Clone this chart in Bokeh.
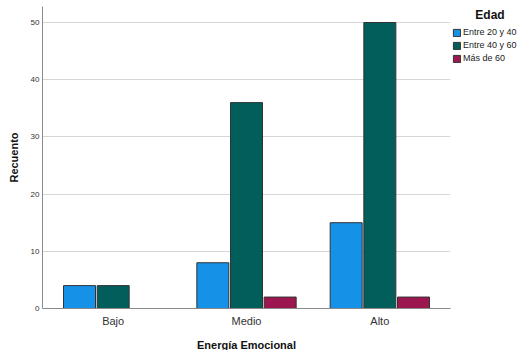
from bokeh.plotting import figure
from bokeh.models import FactorRange, Legend, LegendItem, ColumnDataSource, Range1d
from bokeh.transform import dodge
from bokeh.embed import file_html
from bokeh.resources import INLINE

categories = ["Bajo", "Medio", "Alto"]
series_names = ["Entre 20 y 40", "Entre 40 y 60", "Más de 60"]
entre_20_40 = [4, 8, 15]
entre_40_60 = [4, 36, 50]
mas_60 = [0, 2, 2]
colors = ["#1591e8", "#015e5a", "#9c1750"]
y_ticks = [0, 10, 20, 30, 40, 50]

src = ColumnDataSource(dict(cat=categories, a=entre_20_40, b=entre_40_60, c=mas_60))

p = figure(x_range=FactorRange(*categories, range_padding=0.02),
           y_range=Range1d(0, 52.8),
           width=520, height=350, frame_width=408, frame_height=302,
           output_backend="svg", toolbar_location=None,
           min_border_left=42, min_border_top=6, min_border_bottom=0, min_border_right=0)

series_cols = ["a", "b", "c"]
offsets = [-0.2525, 0.0, 0.2525]
renderers = []
for col, off, colr in zip(series_cols, offsets, colors):
    r = p.vbar(x=dodge("cat", off, range=p.x_range), top=col, width=0.24, source=src,
               fill_color=colr, line_color="#333333", line_width=1)
    renderers.append(r)

p.outline_line_color = None
p.xgrid.grid_line_color = None
p.ygrid.grid_line_color = "#d6d6d6"
p.ygrid.grid_line_width = 1
p.yaxis.ticker = y_ticks
p.axis.major_tick_line_color = None
p.axis.minor_tick_line_color = None
p.axis.major_tick_out = 0
p.axis.minor_tick_out = 0
p.axis.axis_line_color = "#8a8a8a"
p.yaxis.major_label_text_font_size = "8px"
p.yaxis.major_label_text_color = "#333333"
p.yaxis.major_label_standoff = 3
p.xaxis.major_label_text_font_size = "11px"
p.xaxis.major_label_text_color = "#333333"
p.xaxis.major_label_standoff = 6
p.axis.major_label_text_font = "Liberation Sans"
p.xaxis.axis_label = "Energía Emocional"
p.yaxis.axis_label = "Recuento"
p.axis.axis_label_text_font = "Liberation Sans"
p.axis.axis_label_text_font_style = "bold"
p.axis.axis_label_text_font_size = "11px"
p.axis.axis_label_text_color = "#111111"
p.xaxis.axis_label_standoff = 9
p.yaxis.axis_label_standoff = 8

legend = Legend(items=[LegendItem(label=n, renderers=[r]) for n, r in zip(series_names, renderers)],
                title="\u00a0\u00a0\u00a0\u00a0\u00a0\u00a0\u00a0Edad", title_text_font_style="bold",
                title_text_font_size="12px", title_text_color="#111111",
                title_text_font="Liberation Sans", title_standoff=5,
                label_text_font="Liberation Sans", label_text_font_size="9px",
                label_text_color="#222222",
                label_height=10, glyph_height=9, glyph_width=9, label_standoff=2,
                spacing=3, padding=0, margin=2, border_line_color=None,
                location="top_left")
p.add_layout(legend, "right")

open("out.html", "w").write(file_html(p, INLINE))
